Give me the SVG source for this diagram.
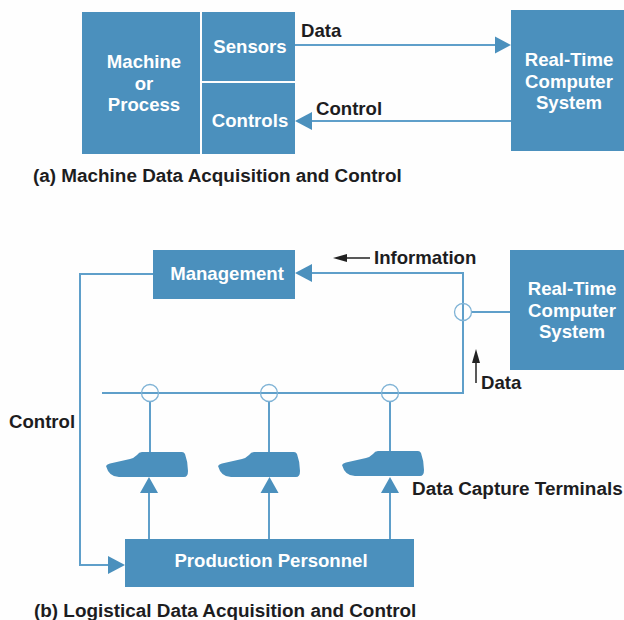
<svg xmlns="http://www.w3.org/2000/svg" width="624" height="620" viewBox="0 0 624 620">
<style>
text{font-family:"Liberation Sans",Arial,sans-serif;font-weight:700}
.b{fill:#4b90bd}
.w{fill:#fff;font-size:18.6px;text-anchor:middle}
.k{fill:#1d1d1f;font-size:18.9px}
.s{font-size:18.6px}
.l{stroke:#5f9fca;stroke-width:2;fill:none}
.c{stroke:#7fb3d6;stroke-width:1.3;fill:none}
.a{fill:#4b90bd;stroke:none}
</style>
<defs>
<path id="term" d="M0 -11 Q1 -13 4 -13.500 L24 -18 Q28 -19 31 -22 Q33 -25 36 -25 L76 -25 Q78 -25 79 -23 Q82 -15 82 -6 Q82 0 78 0 L13 0 Q3 0 0 -11 Z"/>
</defs>
<rect width="624" height="620" fill="#fefefe"/>
<g id="connectors">
<path class="l" d="M295 45H498"/>
<path class="l" d="M312 121H511"/>
<path class="a" d="M511 45L495 36.500V53.500Z"/>
<path class="a" d="M295 121L312 112V130Z"/>
<path class="l" d="M153 274H80V565H110"/>
<path class="a" d="M125 565L108 556V574Z"/>
<path class="l" d="M312 273H463V393H102"/>
<path class="a" d="M295 273L312 264V282Z"/>
<path class="l" d="M472 312H511"/>
<path class="l" d="M150 402V453M269 402V453M390 402V453"/>
<path class="l" d="M149 490V539M269 490V539M390 490V539"/>
<path class="a" d="M149 477L140 493H158Z"/>
<path class="a" d="M269.500 477L260.500 493H278.500Z"/>
<path class="a" d="M390 477L381 493H399Z"/>
<circle class="c" cx="150" cy="393" r="8.500"/>
<circle class="c" cx="269" cy="393" r="8.500"/>
<circle class="c" cx="390" cy="393" r="8.500"/>
<circle class="c" cx="463" cy="312" r="8.500"/>
<path d="M370 258H345" stroke="#222" stroke-width="1.500"/>
<path d="M333 258L347 254V262Z" fill="#222"/>
<path d="M476 383V358" stroke="#222" stroke-width="1.500"/>
<path d="M476 349L472 363H480Z" fill="#222"/>
</g>
<g id="machine"><rect class="b" x="82" y="12" width="118" height="142"/><text class="w" x="144" y="68">Machine</text><text class="w" x="144" y="90">or</text><text class="w" x="144" y="111">Process</text></g>
<g id="sensors"><rect class="b" x="202" y="12" width="93" height="69"/><text class="w" x="250" y="53">Sensors</text></g>
<g id="controls"><rect class="b" x="202" y="83" width="93" height="71"/><text class="w" x="250" y="127">Controls</text></g>
<g id="rt1"><rect class="b" x="511" y="10" width="113" height="141"/><text class="w" x="569" y="66">Real-Time</text><text class="w" x="569" y="88">Computer</text><text class="w" x="569" y="109">System</text></g>
<g id="management"><rect class="b" x="153" y="250" width="142" height="49"/><text class="w" x="227" y="280">Management</text></g>
<g id="rt2"><rect class="b" x="510" y="250" width="114" height="120"/><text class="w" x="572" y="295">Real-Time</text><text class="w" x="572" y="317">Computer</text><text class="w" x="572" y="338">System</text></g>
<g id="terminal1"><use href="#term" class="b" x="106" y="477"/></g>
<g id="terminal2"><use href="#term" class="b" x="218" y="477"/></g>
<g id="terminal3"><use href="#term" class="b" x="342" y="476"/></g>
<g id="personnel"><rect class="b" x="125" y="539" width="289" height="48"/><text class="w" x="271" y="567">Production Personnel</text></g>
<g id="labels">
<text class="k s" x="301" y="37">Data</text>
<text class="k s" x="316" y="115">Control</text>
<text class="k" x="33" y="182">(a) Machine Data Acquisition and Control</text>
<text class="k s" x="374" y="264">Information</text>
<text class="k s" x="481" y="389">Data</text>
<text class="k s" x="9" y="428">Control</text>
<text class="k" x="412" y="495">Data Capture Terminals</text>
<text class="k" x="34" y="617">(b) Logistical Data Acquisition and Control</text>
</g>
</svg>
